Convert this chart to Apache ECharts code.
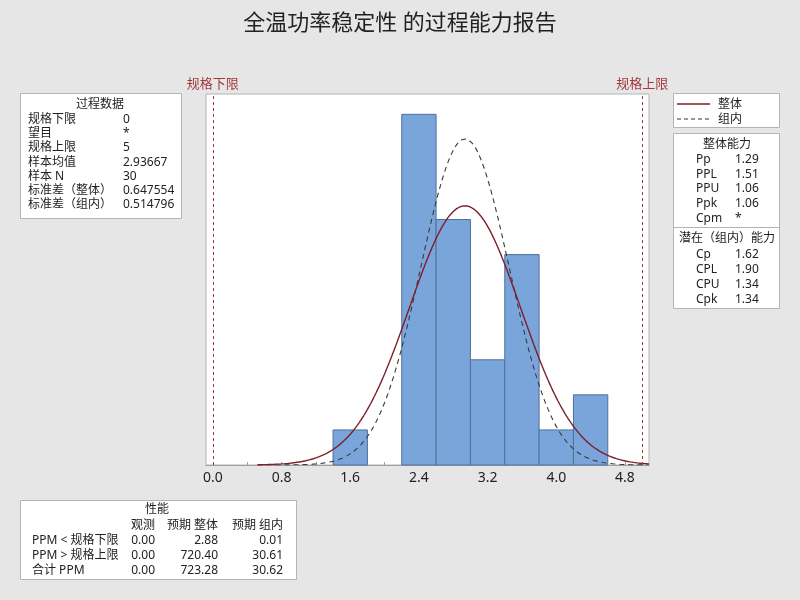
<!DOCTYPE html>
<html><head><meta charset="utf-8">
<script src="https://cdn.jsdelivr.net/npm/echarts@6/dist/echarts.min.js"></script>
<style>html,body{margin:0;padding:0;background:#e6e6e6}#c{width:800px;height:600px}</style>
</head><body><div id="c"></div>
<script>
// ---- data ----
const binCenters = [1.6, 2.4, 2.8, 3.2, 3.6, 4.0, 4.4];
const binCounts = [1, 10, 7, 3, 6, 1, 2];
const binWidth = 0.4;
const sampleN = 30;
const sampleMean = 2.93667;
const stdOverall = 0.647554;
const stdWithin = 0.514796;
const LSL = 0, USL = 5;
const xTickLabels = [0.0, 0.8, 1.6, 2.4, 3.2, 4.0, 4.8];
const xMinorTicks = [0.4, 1.2, 2.0, 2.8, 3.6, 4.4];

const processLabels = ['规格下限', '望目', '规格上限', '样本均值', '样本 N', '标准差（整体）', '标准差（组内）'];
const processValues = ['0', '*', '5', '2.93667', '30', '0.647554', '0.514796'];
const overallLabels = ['Pp', 'PPL', 'PPU', 'Ppk', 'Cpm'];
const overallValues = ['1.29', '1.51', '1.06', '1.06', '*'];
const withinLabels = ['Cp', 'CPL', 'CPU', 'Cpk'];
const withinValues = ['1.62', '1.90', '1.34', '1.34'];
const perfHeaders = ['观测', '预期 整体', '预期 组内'];
const perfLabels = ['PPM < 规格下限', 'PPM > 规格上限', '合计 PPM'];
const perfObserved = ['0.00', '0.00', '0.00'];
const perfOverall = ['2.88', '720.40', '723.28'];
const perfWithin = ['0.01', '30.61', '30.62'];

// fitted normal curves (from the stats above)
function normalCurve(sd) {
  const pts = [];
  for (let i = 0; i <= 228; i++) {
    const x = 0.52 + i * 0.02;
    const y = sampleN * binWidth * Math.exp(-0.5 * Math.pow((x - sampleMean) / sd, 2)) / (sd * Math.sqrt(2 * Math.PI));
    pts.push([x, y]);
  }
  return pts;
}

const FONT = '"Noto Sans", "Noto Sans CJK SC", sans-serif';
const TXT = '#222';
const graphics = [];
function box(x, y, w, h) {
  graphics.push({type: 'rect', shape: {x: x, y: y, width: w, height: h}, style: {fill: '#fff', stroke: '#b4b4b4', lineWidth: 1}, silent: true});
}
function txt(s, x, y, align) {
  graphics.push({type: 'text', x: x, y: y + 1.5, style: {text: s, font: '12px ' + FONT, fill: TXT, textAlign: align || 'left', textVerticalAlign: 'middle'}, silent: true});
}
function line(x1, y1, x2, y2, color, dash, w) {
  graphics.push({type: 'line', shape: {x1: x1, y1: y1, x2: x2, y2: y2}, style: {stroke: color, lineWidth: w || 1, lineDash: dash || null}, silent: true});
}

// left box: process data
box(20.5, 93.5, 161, 125);
txt('过程数据', 100, 103, 'center');
processLabels.forEach((l, i) => { const y = 118 + i * 14.2; txt(l, 28, y); txt(processValues[i], 123, y); });

// legend box
box(673.5, 93.5, 106, 34);
line(677, 104, 710, 104, '#7d1f2b', null, 1.3);
txt('整体', 718, 103);
line(677, 119, 710, 119, '#333', [4, 3], 1);
txt('组内', 718, 118);

// capability box
box(673.5, 133.5, 106, 175);
txt('整体能力', 727, 143, 'center');
overallLabels.forEach((l, i) => { const y = 158 + i * 14.7; txt(l, 696, y); txt(overallValues[i], 735, y); });
line(673.5, 227.5, 779.5, 227.5, '#b4b4b4');
txt('潜在（组内）能力', 727, 237, 'center');
withinLabels.forEach((l, i) => { const y = 253 + i * 15; txt(l, 696, y); txt(withinValues[i], 735, y); });

// bottom performance box
box(20.5, 500.5, 276, 79);
txt('性能', 157, 508, 'center');
const colR = [155, 218, 283];
perfHeaders.forEach((h, i) => txt(h, colR[i], 524, 'right'));
perfLabels.forEach((l, i) => {
  const y = 539 + i * 15;
  txt(l, 32, y);
  txt(perfObserved[i], colR[0], y, 'right');
  txt(perfOverall[i], colR[1], y, 'right');
  txt(perfWithin[i], colR[2], y, 'right');
});

const chart = echarts.init(document.getElementById('c'));
chart.setOption({
  backgroundColor: '#e6e6e6',
  animation: false,
  title: {text: '全温功率稳定性 的过程能力报告', left: 'center', top: 8,
    textStyle: {fontFamily: FONT, fontSize: 22, fontWeight: 'normal', color: '#222'}},
  grid: {left: 206, right: 151, top: 94, bottom: 135, show: true, backgroundColor: '#fff', borderColor: '#b4b4b4', borderWidth: 1},
  xAxis: [{
    type: 'value', min: -0.08, max: 5.08,
    axisLine: {show: true, lineStyle: {color: '#a0a0a0'}},
    axisTick: {show: true, inside: true, length: 3, lineStyle: {color: '#a0a0a0'}, customValues: xTickLabels.concat(xMinorTicks)},
    axisLabel: {customValues: xTickLabels, formatter: v => v.toFixed(1), fontFamily: FONT, fontSize: 14, color: '#222', margin: 6},
    splitLine: {show: false}
  }],
  yAxis: {type: 'value', min: 0, max: 10.58, show: false},
  series: [
    {
      type: 'custom',
      renderItem: function (params, api) {
        const c = api.value(0), n = api.value(1);
        const p0 = api.coord([c - binWidth / 2, n]);
        const p1 = api.coord([c + binWidth / 2, 0]);
        return {type: 'rect', shape: {x: p0[0], y: p0[1], width: p1[0] - p0[0], height: p1[1] - p0[1]},
          style: {fill: '#7aa5da', stroke: '#50709a', lineWidth: 1}};
      },
      data: binCenters.map((c, i) => [c, binCounts[i]]),
      z: 1
    },
    {
      type: 'line', data: normalCurve(stdWithin), showSymbol: false, smooth: false, z: 3,
      lineStyle: {color: '#3a3a3a', width: 1.1, type: [5, 4]}
    },
    {
      type: 'line', data: normalCurve(stdOverall), showSymbol: false, smooth: false, z: 4,
      lineStyle: {color: '#7d1f2b', width: 1.4},
      markLine: {
        silent: true, symbol: 'none',
        lineStyle: {color: '#a0393c', type: [3, 3], width: 1},
        label: {show: true, position: 'end', formatter: '{b}', color: '#a0393c', fontFamily: FONT, fontSize: 13, distance: 3},
        data: [{name: '规格下限', xAxis: LSL}, {name: '规格上限', xAxis: USL}]
      }
    }
  ],
  graphic: graphics
});
</script></body></html>
